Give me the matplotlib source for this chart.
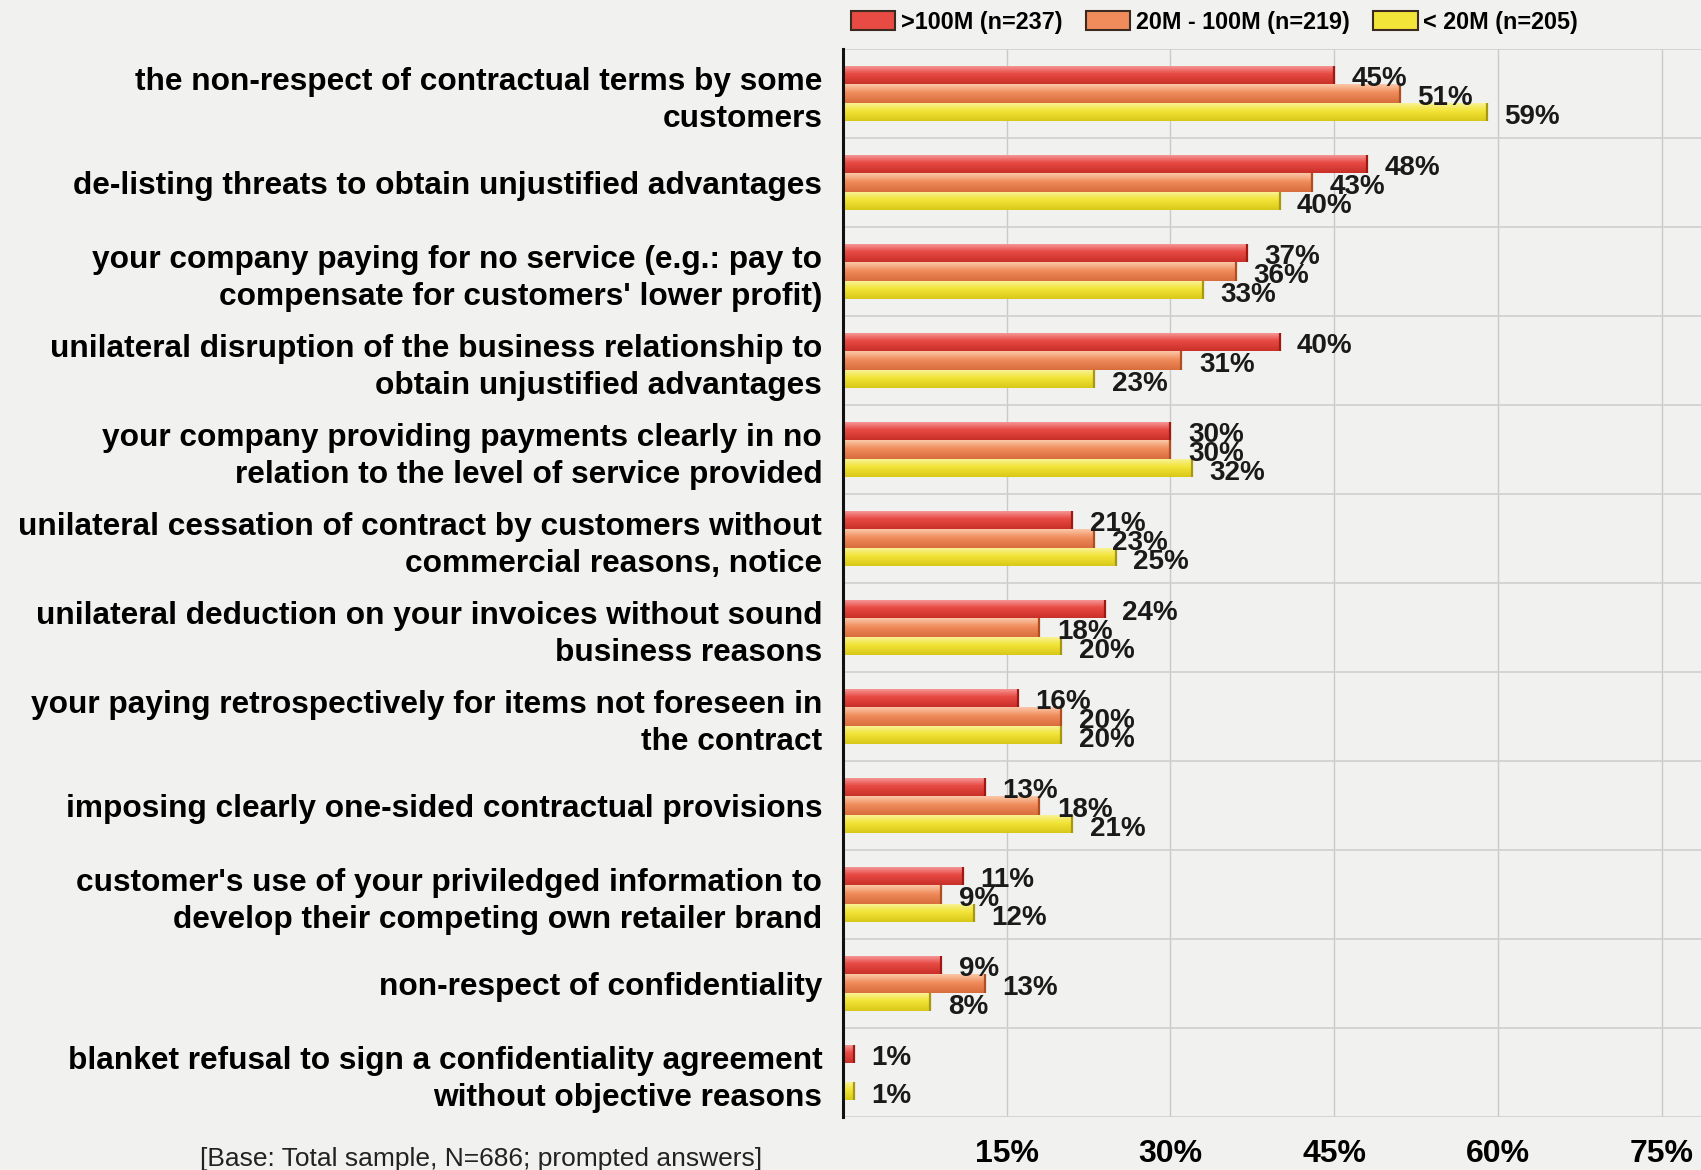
import numpy as np
import matplotlib
matplotlib.use("Agg")
import matplotlib.pyplot as plt
from matplotlib.patches import Patch

categories = [
    "the non-respect of contractual terms by some\ncustomers",
    "de-listing threats to obtain unjustified advantages",
    "your company paying for no service (e.g.: pay to\ncompensate for customers' lower profit)",
    "unilateral disruption of the business relationship to\nobtain unjustified advantages",
    "your company providing payments clearly in no\nrelation to the level of service provided",
    "unilateral cessation of contract by customers without\ncommercial reasons, notice",
    "unilateral deduction on your invoices without sound\nbusiness reasons",
    "your paying retrospectively for items not foreseen in\nthe contract",
    "imposing clearly one-sided contractual provisions",
    "customer's use of your priviledged information to\ndevelop their competing own retailer brand",
    "non-respect of confidentiality",
    "blanket refusal to sign a confidentiality agreement\nwithout objective reasons",
]
series_names = [">100M (n=237)", "20M - 100M (n=219)", "< 20M (n=205)"]
large = [45, 48, 37, 40, 30, 21, 24, 16, 13, 11, 9, 1]
medium = [51, 43, 36, 31, 30, 23, 18, 20, 18, 9, 13, 0]
small = [59, 40, 33, 23, 32, 25, 20, 20, 21, 12, 8, 1]
tick_values = [15, 30, 45, 60, 75]
tick_labels = ["15%", "30%", "45%", "60%", "75%"]
footnote = "[Base: Total sample, N=686; prompted answers]"

plt.rcParams["font.family"] = ["Liberation Sans", "DejaVu Sans"]

# (light top, main, dark bottom, edge)
palettes = [
    ("#f6a0a0", "#e84a44", "#c83028", "#a01810"),
    ("#fbc8a8", "#f08c5c", "#d86c3c", "#b04e20"),
    ("#faf4a0", "#f2e438", "#d8c818", "#a89810"),
]
series = [large, medium, small]

bg = "#f1f1ef"
fig = plt.figure(figsize=(17.01, 11.70), dpi=100, facecolor=bg)
ax = fig.add_axes([843 / 1701, 1 - 1117 / 1170, 1 - 843 / 1701, (1117 - 49) / 1170])
ax.set_facecolor(bg)

y = np.arange(len(categories))
h = 0.21
offsets = [-h, 0, h]


def gradient_bar(ax, x0, yc, width, height, cols):
    bars = ax.barh(yc, width, height=height, left=x0, color=cols[1], linewidth=0, zorder=3)
    rect = bars[0]
    cmap = matplotlib.colors.LinearSegmentedColormap.from_list(
        "g", [(0, cols[0]), (0.45, cols[1]), (1, cols[2])])
    grad = np.linspace(0, 1, 64).reshape(-1, 1)
    im = ax.imshow(grad, cmap=cmap, aspect="auto", interpolation="bilinear",
                   extent=(x0, x0 + width, yc + height / 2, yc - height / 2),
                   origin="upper", zorder=3.5)
    im.set_clip_path(rect)
    ax.vlines(x0 + width, yc - height / 2, yc + height / 2, color=cols[3], lw=1.6, zorder=4)


for vals, off, cols in zip(series, offsets, palettes):
    for yi, v in zip(y, vals):
        if v <= 0:
            continue
        gradient_bar(ax, 0, yi + off, v, h * 0.98, cols)
        ax.text(v + 1.6, yi + off + 0.05, f"{v}%", ha="left", va="center",
                fontsize=20, fontweight="bold", color="#1a1a1a", zorder=6)

ax.set_xlim(0, 78.6)
ax.set_ylim(len(categories) - 0.5, -0.5)

# grid
for t in tick_values:
    ax.axvline(t, color="#c9c9c9", lw=1.0, zorder=1)
for k in range(len(categories) + 1):
    ax.axhline(k - 0.5, color="#cfcfcf", lw=1.2, zorder=1)

ax.set_yticks(y)
ax.set_yticklabels(categories, fontsize=22.8, fontweight="bold", linespacing=1.3)
ax.tick_params(axis="y", length=0, pad=15)
ax.set_xticks(tick_values)
ax.set_xticklabels(tick_labels, fontsize=23, fontweight="bold")
ax.tick_params(axis="x", length=0, pad=16)

for s in ["top", "right", "bottom"]:
    ax.spines[s].set_visible(False)
ax.spines["left"].set_color("#111111")
ax.spines["left"].set_linewidth(2.2)
ax.spines["left"].set_zorder(5)

handles = [Patch(facecolor=p[1], edgecolor="#3a2a20", linewidth=1.5) for p in palettes]
leg = fig.legend(handles, series_names, loc="center left", bbox_to_anchor=(830 / 1701, 1 - 22 / 1170),
                 ncol=3, frameon=False, handlelength=1.9, handleheight=0.9, handletextpad=0.25,
                 columnspacing=1.0, prop={"weight": "bold", "size": 16.8})

fig.text(200 / 1701, 1 - 1159 / 1170, footnote, ha="left", va="center", fontsize=19,
         color="#222222")

fig.savefig("out.png", dpi=100, facecolor=bg)
